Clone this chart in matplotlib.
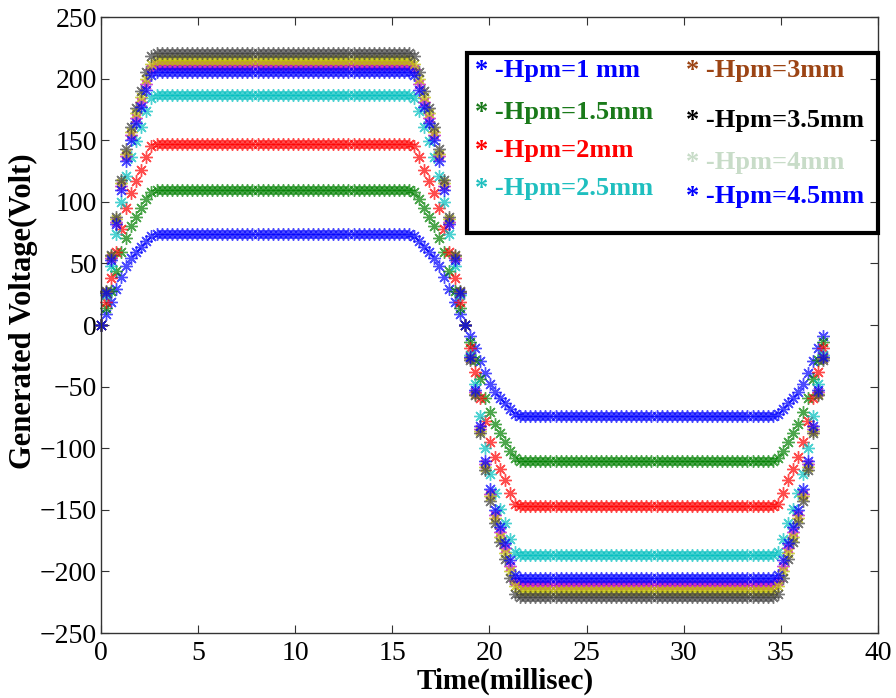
import numpy as np
import matplotlib.pyplot as plt
from matplotlib.patches import Rectangle

# sampled generated-voltage waveforms, one per magnet height
dt_ms = 0.26          # sampling step (ms)
flat_len = 51         # samples on each plateau

# order: 1, 1.5, 2, 2.5, 3, 3.5, 4, 4.5 mm
levels = [73.5, 110, 147, 187, 211, 215.5, 220.5, 205.5]

rises = [
    [0, 9, 19, 29, 39, 48, 54, 59, 63, 68, 72],
    [0, 14, 28, 44, 59, 71, 80, 88, 95, 102, 108],
    [0, 19, 38, 59, 78, 95, 107, 117, 126, 136, 145],
    [0, 24, 48, 74, 100, 121, 136, 149, 161, 174, 184],
    [0, 27, 54, 84, 113, 137, 154, 168, 181, 196, 208],
    [0, 27, 56, 86, 115, 139, 157, 172, 185, 200, 212],
    [0, 28, 57, 88, 118, 143, 161, 176, 190, 205, 218],
    [0, 26, 53, 82, 110, 133, 150, 164, 177, 191, 203],
]

falls = [
    [72, 68, 63, 59, 54, 48, 39, 29, 19, 9, 0, -9, -19, -29, -39, -48, -54, -59, -63, -68, -72],
    [108, 102, 95, 88, 80, 71, 59, 44, 28, 14, 0, -14, -28, -44, -59, -71, -80, -88, -95, -102, -108],
    [145, 136, 126, 117, 107, 95, 78, 59, 38, 19, 0, -19, -38, -59, -78, -95, -107, -117, -126, -136, -145],
    [184, 174, 161, 149, 136, 121, 100, 74, 48, 24, 0, -24, -48, -74, -100, -121, -136, -149, -161, -174, -184],
    [208, 196, 181, 168, 154, 137, 113, 84, 54, 27, 0, -27, -54, -84, -113, -137, -154, -168, -181, -196, -208],
    [212, 200, 185, 172, 157, 139, 115, 86, 56, 27, 0, -27, -56, -86, -115, -139, -157, -172, -185, -200, -212],
    [218, 205, 190, 176, 161, 143, 118, 88, 57, 28, 0, -28, -57, -88, -118, -143, -161, -176, -190, -205, -218],
    [203, 191, 177, 164, 150, 133, 110, 82, 53, 26, 0, -26, -53, -82, -110, -133, -150, -164, -177, -191, -203],
]

ends = [
    [-72, -68, -63, -59, -54, -48, -39, -29, -19, -9],
    [-108, -102, -95, -88, -80, -71, -59, -44, -28, -14],
    [-145, -136, -126, -117, -107, -95, -78, -59, -38, -19],
    [-184, -174, -161, -149, -136, -121, -100, -74, -48, -24],
    [-208, -196, -181, -168, -154, -137, -113, -84, -54, -27],
    [-212, -200, -185, -172, -157, -139, -115, -86, -56, -27],
    [-218, -205, -190, -176, -161, -143, -118, -88, -57, -28],
    [-203, -191, -177, -164, -150, -133, -110, -82, -53, -26],
]

line_colors = ['#0000ff', '#008000', '#ff0000', '#00bfbf',
               '#bf00bf', '#bfbf00', '#404040', '#0000ff']

legend_labels = ['* -Hpm=1 mm', '* -Hpm=1.5mm', '* -Hpm=2mm', '* -Hpm=2.5mm',
                 '* -Hpm=3mm', '* -Hpm=3.5mm', '* -Hpm=4mm', '* -Hpm=4.5mm']
legend_colors = ['#0000ff', '#1a7a1a', '#ff0000', '#1fbfbf',
                 '#9c4414', '#000000', '#c8dcc8', '#0000ff']

plt.rcParams['font.family'] = ['Liberation Serif', 'DejaVu Serif']

fig = plt.figure(figsize=(8.96, 6.98), dpi=100)
ax = fig.add_axes([0.1127, 0.0931, 0.8672, 0.8825])

star = (8, 2, 0)
for lv, r, f, e, c in zip(levels, rises, falls, ends, line_colors):
    v = np.concatenate([r, np.full(flat_len, lv), f, np.full(flat_len, -lv), e])
    t = np.arange(len(v)) * dt_ms
    ax.plot(t, v, linestyle='none', marker=star, markersize=9,
            markeredgewidth=1.0, color=c, alpha=0.7, clip_on=False)

ax.set_xlim(0, 40)
ax.set_ylim(-250, 250)
ax.set_xticks(np.arange(0, 41, 5))
ax.set_yticks(np.arange(-250, 251, 50))
ax.tick_params(direction='in', top=True, right=True, length=6,
               labelsize=20, color='#333333', pad=3)
ax.tick_params(axis='x', pad=6)
for s in ax.spines.values():
    s.set_color('#333333')
    s.set_linewidth(1.0)

ax.set_xlabel('Time(millisec)', fontsize=21, fontweight='bold')
ax.set_ylabel('Generated Voltage(Volt)', fontsize=22, fontweight='bold')
ax.xaxis.set_label_coords(0.52, -0.057)
ax.yaxis.set_label_coords(-0.081, 0.523)

# hand-placed key box in the upper right
W, H = 896, 698
fig.patches.append(Rectangle((467 / W, 1 - 233 / H), (878 - 467) / W, (233 - 53) / H,
                             transform=fig.transFigure, fill=False,
                             edgecolor='black', linewidth=3, zorder=5))
col_x = [475, 686]
row_y = [[70, 112, 150, 188], [70, 120, 162, 197]]
for i, (lab, col) in enumerate(zip(legend_labels, legend_colors)):
    cx = col_x[i // 4]
    cy = row_y[i // 4][i % 4]
    fig.text(cx / W, 1 - cy / H, lab, color=col, fontsize=19,
             fontweight='bold', va='center', ha='left')

fig.savefig('out.png', dpi=100)
